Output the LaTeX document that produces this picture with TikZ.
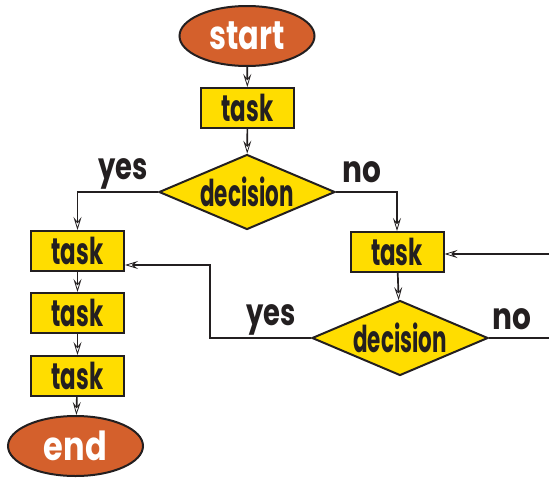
\documentclass[tikz,border=0pt]{standalone}
\usepackage{fontspec}
\setmainfont{Poppins}[UprightFont=* Bold]
\usetikzlibrary{shapes.geometric,arrows.meta}
\definecolor{termfill}{HTML}{D4602C}
\definecolor{boxfill}{HTML}{FFDD00}
\definecolor{ink}{HTML}{231F20}
\newcommand{\cond}[2][0.62]{\scalebox{#1}[1]{#2}}
\begin{document}
\begin{tikzpicture}[x=1pt,y=-1pt,
  every node/.style={font=\fontsize{37}{37}\selectfont, text=ink},
  term/.style={ellipse, draw=ink, line width=2pt, fill=termfill, text=white,
    minimum width=135pt, minimum height=60pt, inner sep=0pt,
    font=\fontsize{40}{40}\selectfont},
  taskbox/.style={rectangle, draw=ink, line width=2pt, fill=boxfill,
    minimum width=93pt, minimum height=40pt, inner sep=0pt},
  decbox/.style={diamond, aspect=2.35, draw=ink, line width=2pt, fill=boxfill,
    minimum width=176pt, minimum height=75pt, inner sep=0pt},
  lbl/.style={inner sep=0pt},
  arr/.style={draw=ink, line width=1.7pt,
    -{Stealth[open,length=13pt,width=8pt,inset=5pt,line width=0.8pt]}},
  ln/.style={draw=ink, line width=1.7pt}
]
\useasboundingbox (0,0) rectangle (549,477);
\node[term] (start) at (247,36) {\cond[0.76]{start}};
\node[taskbox] (t1) at (247.5,108) {\cond{task}};
\node[decbox] (d1) at (247,192) {\cond[0.58]{decision}};
\node[taskbox] (t2) at (77.5,251) {\cond{task}};
\node[taskbox] (t3) at (77.5,313) {\cond{task}};
\node[taskbox] (t4) at (77.5,376) {\cond{task}};
\node[term] (end) at (75.5,446) {\cond[0.8]{end}};
\node[taskbox] (t5) at (397,252) {\cond{task}};
\node[decbox] (d2) at (400,338) {\cond[0.58]{decision}};

\node[lbl] (yes1) at (123,174) {\cond[0.74]{yes}};
\node[lbl] (no1) at (362,172) {\cond[0.8]{no}};
\node[lbl] (yes2) at (271,320) {\cond[0.74]{yes}};
\node[lbl] (no2) at (512,319) {\cond[0.8]{no}};

\coordinate (rin) at (549,254);
\coordinate (rout) at (549,338);
\coordinate (loop) at (210,265);

\draw[arr] (start) -- (t1);
\draw[arr] (t1) -- (d1);
\draw[arr] (d1.west) -| (t2.north);
\draw[arr] (d1.east) -| (t5.north);
\draw[arr] (t2) -- (t3);
\draw[arr] (t3) -- (t4);
\draw[arr] (t4) -- (end);
\draw[arr] (rin) -- (t5.east |- rin);
\draw[arr] (t5) -- (d2);
\draw[arr] (d2.west) -| (loop) -- (t2.east |- loop);
\draw[ln] (d2.east) -- (d2.east -| rout);
\end{tikzpicture}
\end{document}
